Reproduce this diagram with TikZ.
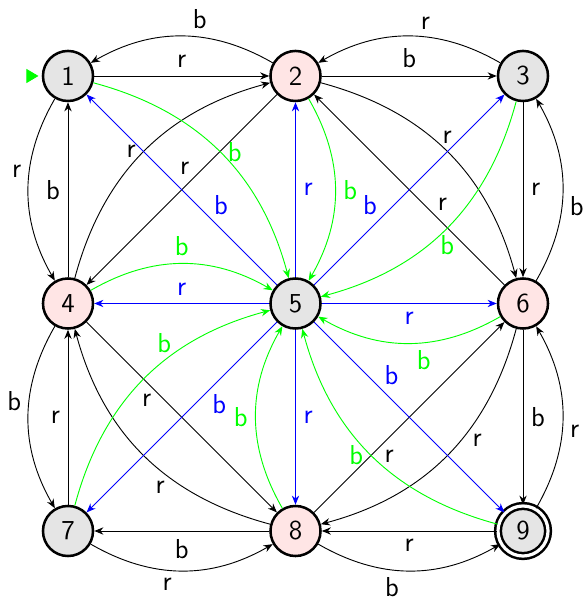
\documentclass[tikz,border=0pt]{standalone}
\usetikzlibrary{arrows.meta}
\begin{document}
\begin{tikzpicture}[>={Stealth[length=4pt,width=3.2pt]}, font=\sffamily\large,
	sgray/.style={draw, circle, fill=black!10, minimum size=0.77cm, inner sep=0pt, line width=1.1pt},
	spink/.style={sgray, fill=red!10},
	dlab/.style={inner sep=1.5pt}]
	\useasboundingbox (-1.046,-8.077) rectangle (7.969,1.169);

	\node[sgray] (n1) at (0,0) {1};
	\node[spink] (n2) at (3.5,0) {2};
	\node[sgray] (n3) at (7,0) {3};
	\node[spink] (n4) at (0,-3.5) {4};
	\node[sgray] (n5) at (3.5,-3.5) {5};
	\node[spink] (n6) at (7,-3.5) {6};
	\node[sgray] (n7) at (0,-7) {7};
	\node[spink] (n8) at (3.5,-7) {8};
	\node[sgray, double, double distance=1.4pt] (n9) at (7,-7) {9};

	\coordinate (init) at (-0.63,0);
	\draw[green, -{Triangle[length=0.185cm,width=0.215cm]}, shorten >=0.05cm] (init) -- (n1);

	% straight, rows and columns
	\draw[->] (n1) -- node[above] {r} (n2);
	\draw[->] (n2) -- node[above] {b} (n3);
	\draw[->] (n4) -- node[left] {b} (n1);
	\draw[->] (n3) -- node[right] {r} (n6);
	\draw[->] (n7) -- node[left] {r} (n4);
	\draw[->] (n6) -- node[right] {b} (n9);
	\draw[->] (n8) -- node[below] {b} (n7);
	\draw[->] (n9) -- node[below] {r} (n8);

	% arcs back
	\draw[->] (n2) to[bend right=30] node[pos=.4, above] {b} (n1);
	\draw[->] (n3) to[bend right=30] node[pos=.41, above] {r} (n2);
	\draw[->] (n1) to[bend right=30] node[pos=.4, left] {r} (n4);
	\draw[->] (n6) to[bend right=30] node[pos=.41, right] {b} (n3);
	\draw[->] (n4) to[bend right=30] node[pos=.41, left] {b} (n7);
	\draw[->] (n9) to[bend right=30] node[pos=.42, right] {r} (n6);
	\draw[->] (n7) to[bend right=30] node[pos=.42, below] {r} (n8);
	\draw[->] (n8) to[bend right=30] node[pos=.405, below] {b} (n9);

	% black diagonals
	\draw[->] (n4) to[bend left=30] node[left] {r} (n2);
	\draw[->] (n2) to[bend left=30] node[above] {r} (n6);
	\draw[->] (n6) to[bend left=30] node[dlab, pos=.38, below right] {r} (n8);
	\draw[->] (n8) to[bend left=30] node[dlab, pos=.38, below left] {r} (n4);
	\draw[->] (n2) -- node[dlab, pos=.44, above left] {r} (n4);
	\draw[->] (n6) -- node[dlab, pos=.37, above right] {r} (n2);
	\draw[->] (n4) -- node[dlab, pos=.36, below left] {r} (n8);
	\draw[->] (n8) -- node[dlab, pos=.35, below right] {r} (n6);

	% into 5
	\draw[->, green] (n1) to[bend left=30] node[right] {b} (n5);
	\draw[->, green] (n2) to[bend left=30] node[right] {b} (n5);
	\draw[->, green] (n3) to[bend left=30] node[below] {b} (n5);
	\draw[->, green] (n4) to[bend left=30] node[above] {b} (n5);
	\draw[->, green] (n6) to[bend left=30] node[pos=.42, below] {b} (n5);
	\draw[->, green] (n7) to[bend left=30] node[pos=.6, above] {b} (n5);
	\draw[->, green] (n8) to[bend left=30] node[left] {b} (n5);
	\draw[->, green] (n9) to[bend left=30] node[left] {b} (n5);

	% out of 5
	\draw[->, blue] (n5) -- node[right] {r} (n2);
	\draw[->, blue] (n5) -- node[above] {r} (n4);
	\draw[->, blue] (n5) -- node[below] {r} (n6);
	\draw[->, blue] (n5) -- node[right] {r} (n8);
	\draw[->, blue] (n5) -- node[dlab, pos=.35, above right] {b} (n1);
	\draw[->, blue] (n5) -- node[dlab, pos=.35, above left] {b} (n3);
	\draw[->, blue] (n5) -- node[dlab, pos=.36, below right] {b} (n7);
	\draw[->, blue] (n5) -- node[dlab, pos=.35, above right] {b} (n9);
\end{tikzpicture}
\end{document}
